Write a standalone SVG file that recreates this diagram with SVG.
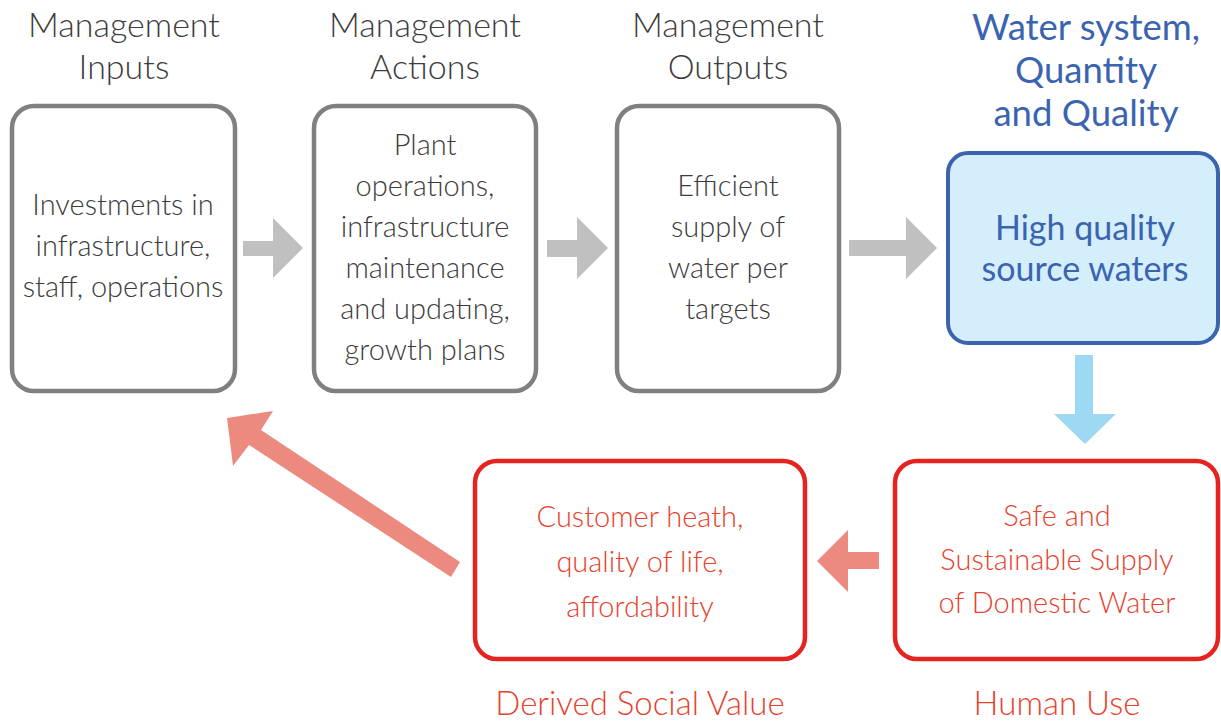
<svg xmlns="http://www.w3.org/2000/svg" width="1221" height="723" viewBox="0 0 1221 723">
  <style>
    text { font-family: "Lato", "Open Sans", "Liberation Sans", sans-serif; text-anchor: middle; font-weight: 300; }
    .head { font-size: 34px; fill: #3c3c3c; }
    .body { font-size: 29px; fill: #3c3c3c; }
    .blue { fill: #3a64b0; font-weight: 400; }
    .bhead { font-size: 36.5px; }
    .bbody { font-size: 34px; }
    .red { fill: #e8412c; }
    .rbody { font-size: 29px; }
    .rhead { font-size: 33px; }
    .gbox { fill: #ffffff; stroke: #808080; stroke-width: 4.5; }
    .wbox { fill: #d5eefb; stroke: #3a64b0; stroke-width: 4; }
    .rbox { fill: #ffffff; stroke: #e52421; stroke-width: 4.5; }
    .garrow { fill: #c0c0c0; }
    .barrow { fill: #9dd9f2; }
    .rarrow { fill: #ec8a80; }
  </style>

  <rect width="1221" height="723" fill="#ffffff"/>

  <!-- connectors -->
  <g id="connectors">
    <polygon class="garrow" points="243,241 273,241 273,218 303,248 273,278 273,256 243,256"/>
    <polygon class="garrow" points="547,240 577,240 577,217 608,248 577,279 577,257 547,257"/>
    <polygon class="garrow" points="849,240 906,240 906,217 937,248 906,279 906,256 849,256"/>
    <polygon class="barrow" points="1075,355 1093,355 1093,414 1116,414 1085,444 1054,414 1075,414"/>
    <polygon class="rarrow" points="817,561 848,530 848,552 879,552 879,569 848,569 848,592"/>
    <polygon class="rarrow" points="227,418 273,411 261,430 460,562 451,577 249,445 233,466"/>
  </g>

  <!-- Management Inputs -->
  <g id="inputs">
    <text class="head" x="124" y="37">Management</text>
    <text class="head" x="124" y="79">Inputs</text>
    <rect class="gbox" x="12" y="106" width="223" height="285" rx="22"/>
    <text class="body" x="123" y="215">Investments in</text>
    <text class="body" x="123" y="256">infrastructure,</text>
    <text class="body" x="123" y="297">staff, operations</text>
  </g>

  <!-- Management Actions -->
  <g id="actions">
    <text class="head" x="425" y="37">Management</text>
    <text class="head" x="425" y="79">Actions</text>
    <rect class="gbox" x="314" y="106" width="222" height="285" rx="22"/>
    <text class="body" x="425" y="155">Plant</text>
    <text class="body" x="425" y="196">operations,</text>
    <text class="body" x="425" y="237">infrastructure</text>
    <text class="body" x="425" y="278">maintenance</text>
    <text class="body" x="425" y="319">and updating,</text>
    <text class="body" x="425" y="360">growth plans</text>
  </g>

  <!-- Management Outputs -->
  <g id="outputs">
    <text class="head" x="728" y="37">Management</text>
    <text class="head" x="728" y="79">Outputs</text>
    <rect class="gbox" x="617" y="106" width="222" height="285" rx="22"/>
    <text class="body" x="728" y="196">Efficient</text>
    <text class="body" x="728" y="237">supply of</text>
    <text class="body" x="728" y="278">water per</text>
    <text class="body" x="728" y="319">targets</text>
  </g>

  <!-- Water system -->
  <g id="water">
    <text class="blue bhead" x="1086" y="40">Water system,</text>
    <text class="blue bhead" x="1086" y="83">Quantity</text>
    <text class="blue bhead" x="1086" y="126">and Quality</text>
    <rect class="wbox" x="948" y="153" width="270" height="190" rx="20"/>
    <text class="blue bbody" x="1085" y="240">High quality</text>
    <text class="blue bbody" x="1085" y="281">source waters</text>
  </g>

  <!-- Human Use -->
  <g id="human-use">
    <rect class="rbox" x="895" y="461" width="323" height="198" rx="22"/>
    <text class="red rbody" x="1057" y="526">Safe and</text>
    <text class="red rbody" x="1057" y="570">Sustainable Supply</text>
    <text class="red rbody" x="1057" y="613">of Domestic Water</text>
    <text class="red rhead" x="1057" y="715">Human Use</text>
  </g>

  <!-- Derived Social Value -->
  <g id="social-value">
    <rect class="rbox" x="475" y="461" width="330" height="198" rx="22"/>
    <text class="red rbody" x="640" y="527">Customer heath,</text>
    <text class="red rbody" x="640" y="572">quality of life,</text>
    <text class="red rbody" x="640" y="617">affordability</text>
    <text class="red rhead" x="640" y="715">Derived Social Value</text>
  </g>
</svg>
